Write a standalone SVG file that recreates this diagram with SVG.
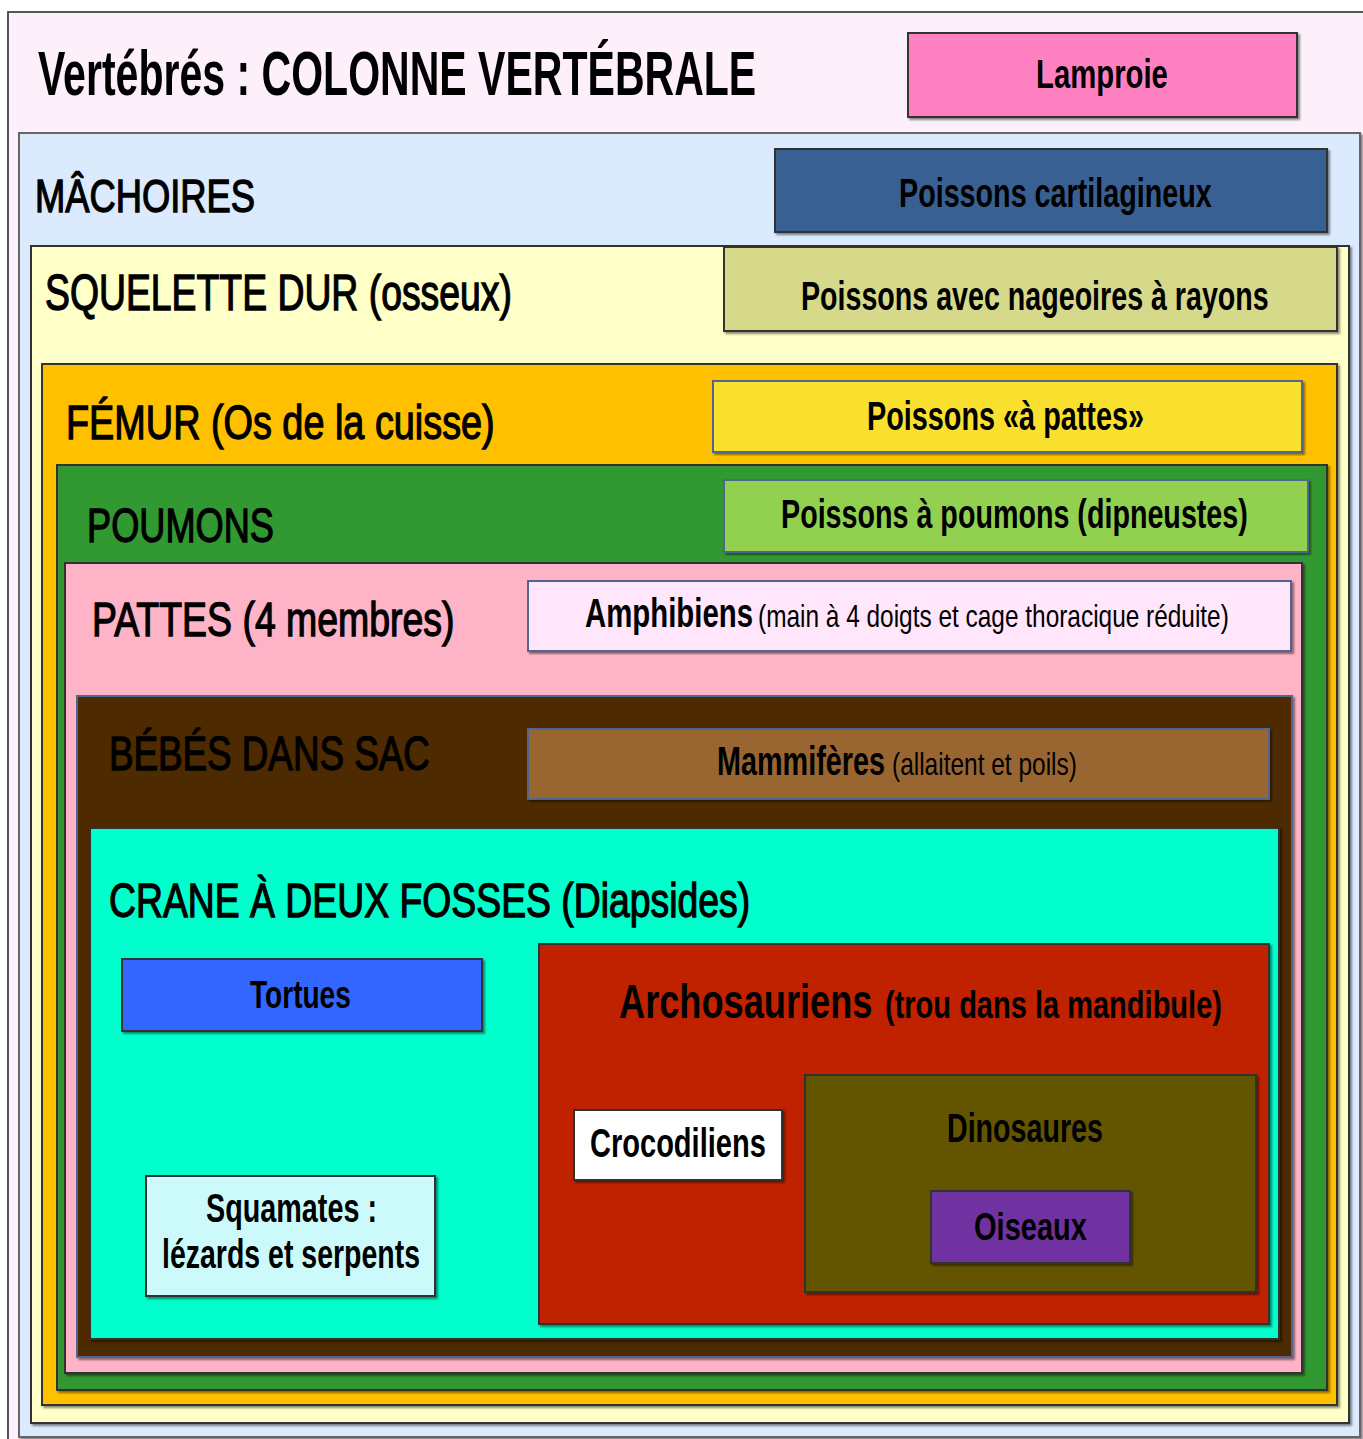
<svg xmlns="http://www.w3.org/2000/svg" width="1363" height="1439" viewBox="0 0 1363 1439">
<defs>
<filter id="sh" x="-5%" y="-5%" width="110%" height="110%">
<feDropShadow dx="2" dy="2" stdDeviation="1" flood-color="#000" flood-opacity="0.45"/>
</filter>
<style>
rect { stroke: #333; stroke-width: 2; filter: url(#sh); }
rect.blu { stroke: #50668e; }
text { font-family: "Liberation Sans", Arial, sans-serif; fill: #000; }
.ttl { font-size: 62px; font-weight: bold; }
.hd { font-size: 48px; font-weight: normal; stroke: #000; stroke-width: 1.3; }
.lb { font-size: 40px; font-weight: bold; }
.sm { font-size: 32px; font-weight: normal; }
</style>
</defs>
<rect x="0" y="0" width="1363" height="1439" fill="#ffffff" style="stroke:none;filter:none"/>

<g id="vertebres">
<rect x="8" y="12" width="1370" height="1440" fill="#fdf0fb" style="stroke:#555"/>
<text class="ttl" transform="translate(38,95) scale(0.662,1)">Vertébrés : COLONNE VERTÉBRALE</text>
</g>
<g id="lamproie">
<rect x="908" y="33" width="389" height="84" fill="#ff80c0"/>
<text class="lb" transform="translate(1036,88) scale(0.715,1)" style="font-size:41px">Lamproie</text>
</g>

<g id="machoires">
<rect x="19" y="133" width="1341" height="1304" fill="#dbeafc" style="stroke:#666"/>
<text class="hd" transform="translate(35,212) scale(0.79,1)" style="font-size:46px">MÂCHOIRES</text>
</g>
<g id="cartilagineux">
<rect x="775" y="149" width="552" height="83" fill="#376092"/>
<text class="lb" transform="translate(899,207) scale(0.718,1)">Poissons cartilagineux</text>
</g>

<g id="squelette">
<rect x="31" y="246" width="1318" height="1177" fill="#ffffc8"/>
<text class="hd" transform="translate(45,310) scale(0.747,1)" style="font-size:50px">SQUELETTE DUR (osseux)</text>
</g>
<g id="nageoires">
<rect x="724" y="247" width="613" height="84" fill="#d7d98a"/>
<text class="lb" transform="translate(801,310) scale(0.716,1)">Poissons avec nageoires à rayons</text>
</g>

<g id="femur">
<rect x="42" y="364" width="1295" height="1041" fill="#ffc000"/>
<text class="hd" transform="translate(66,439) scale(0.788,1)">FÉMUR (Os de la cuisse)</text>
</g>
<g id="poissons-pattes">
<rect class="blu" x="713" y="381" width="589" height="71" fill="#f9e02e"/>
<text class="lb" transform="translate(867,430) scale(0.703,1)" style="font-size:41px">Poissons «à pattes»</text>
</g>

<g id="poumons">
<rect x="57" y="465" width="1270" height="925" fill="#339933"/>
<text class="hd" transform="translate(87,542) scale(0.754,1)">POUMONS</text>
</g>
<g id="dipneustes">
<rect class="blu" x="724" y="480" width="584" height="72" fill="#92d050"/>
<text class="lb" transform="translate(781,528) scale(0.717,1)">Poissons à poumons (dipneustes)</text>
</g>

<g id="pattes">
<rect x="65" y="563" width="1237" height="810" fill="#ffb3c6"/>
<text class="hd" transform="translate(92,636) scale(0.78,1)">PATTES (4 membres)</text>
</g>
<g id="amphibiens">
<rect class="blu" x="528" y="581" width="763" height="70" fill="#ffe6fa"/>
<text class="lb" transform="translate(585,627) scale(0.734,1)">Amphibiens</text>
<text class="sm" transform="translate(758,627) scale(0.763,1)">(main à 4 doigts et cage thoracique réduite)</text>
</g>

<g id="bebes">
<rect class="blu" x="77" y="696" width="1215" height="661" fill="#4d2c00"/>
<text class="hd" transform="translate(109,770) scale(0.766,1)">BÉBÉS DANS SAC</text>
</g>
<g id="mammiferes">
<rect class="blu" x="528" y="729" width="741" height="70" fill="#996633"/>
<text class="lb" transform="translate(717,775) scale(0.72,1)">Mammifères</text>
<text class="sm" transform="translate(892,775) scale(0.765,1)">(allaitent et poils)</text>
</g>

<g id="crane">
<rect x="90" y="828" width="1189" height="511" fill="#00ffcc"/>
<text class="hd" transform="translate(109,917) scale(0.778,1)">CRANE À DEUX FOSSES (Diapsides)</text>
</g>
<g id="tortues">
<rect x="122" y="959" width="360" height="72" fill="#3366ff"/>
<text class="lb" transform="translate(250,1008) scale(0.72,1)" style="font-size:39px">Tortues</text>
</g>
<g id="squamates">
<rect x="146" y="1176" width="289" height="120" fill="#ccfafa"/>
<text class="lb" transform="translate(206,1222) scale(0.719,1)">Squamates :</text>
<text class="lb" transform="translate(162,1268) scale(0.712,1)">lézards et serpents</text>
</g>

<g id="archosauriens">
<rect x="539" y="944" width="730" height="380" fill="#c02000"/>
<text class="lb" transform="translate(619,1018) scale(0.754,1)" style="font-size:48px">Archosauriens</text>
<text class="lb" transform="translate(885,1018) scale(0.764,1)" style="font-size:38px">(trou dans la mandibule)</text>
</g>
<g id="crocodiliens">
<rect x="574" y="1110" width="208" height="70" fill="#ffffff"/>
<text class="lb" transform="translate(590,1157) scale(0.726,1)">Crocodiliens</text>
</g>
<g id="dinosaures">
<rect x="805" y="1075" width="451" height="217" fill="#635500"/>
<text class="lb" transform="translate(947,1142) scale(0.716,1)">Dinosaures</text>
</g>
<g id="oiseaux">
<rect x="931" y="1191" width="199" height="72" fill="#7030a0"/>
<text class="lb" transform="translate(974,1240) scale(0.745,1)" style="font-size:39px">Oiseaux</text>
</g>

<g id="connectors"/>
</svg>
